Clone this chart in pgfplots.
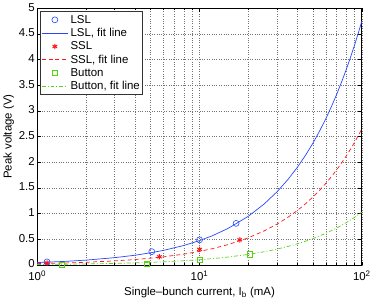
\documentclass[border=0pt]{standalone}
\usepackage{fontspec}
\setmainfont{Liberation Sans}
\usepackage{pgfplots}
\pgfplotsset{compat=1.18}
\definecolor{mblue}{RGB}{40,70,255}
\definecolor{mred}{RGB}{255,20,20}
\definecolor{mgreen}{RGB}{90,210,20}
\begin{document}
\begin{tikzpicture}
\begin{axis}[
  xmode=log,
  scale only axis,
  width=325bp, height=257bp,
  xmin=1, xmax=100, ymin=0, ymax=5,
  xtick={1,10,100},
  xticklabels={10\textsuperscript{0},10\textsuperscript{1},10\textsuperscript{2}},
  minor xtick={2,3,4,5,6,7,8,9,20,30,40,50,60,70,80,90},
  ytick={0,0.5,1,1.5,2,2.5,3,3.5,4,4.5,5},
  yticklabels={0,0.5,1,1.5,2,2.5,3,3.5,4,4.5,5},
  tick align=inside,
  tick pos=both,
  major tick length=3.5pt, minor tick length=2pt,
  grid=both,
  major grid style={black!55, dotted, line width=0.5pt},
  minor grid style={black!55, dotted, line width=0.5pt},
  axis line style={black, line width=1pt},
  tick style={black, line width=0.6pt},
  tick label style={font=\fontsize{11.5}{13}\selectfont},
  yticklabel style={xshift=1pt, yshift=1pt},
  xticklabel style={yshift=-2pt},
  label style={font=\fontsize{11.5}{13}\selectfont},
  xlabel={Single\textendash bunch current, I\textsubscript{b} (mA)},
  ylabel={Peak voltage (V)},
  xlabel style={at={(axis description cs:0.5,-0.108)}, anchor=center},
  ylabel style={at={(axis description cs:-0.088,0.5)}, anchor=center},
  legend image code/.code={\draw[mark repeat=2,mark phase=2,#1] plot coordinates {(0cm,0cm) (0.47cm,0cm) (0.94cm,0cm)};},
  legend style={at={(0.01,0.988)}, anchor=north west, font=\fontsize{11.5}{13}\selectfont, draw=black!80, line width=0.5pt, inner xsep=0.5pt, inner ysep=1.5pt, row sep=-0.3pt, cells={anchor=west}},
  legend cell align=left,
]
\addplot[only marks, mblue, mark=o, mark size=3pt, line width=0.6pt] coordinates {(1.15,0.06) (5.08,0.26) (10,0.49) (16.8,0.81)};
\addlegendentry{LSL}
\addplot[mblue, solid, line width=0.7pt] coordinates {
(1,0.0475) (1.5,0.071) (2,0.095) (3,0.143) (4,0.19) (5,0.238) (6,0.285) (8,0.38) (10,0.475) (12,0.57) (15,0.713) (20,0.95) (25,1.188) (30,1.425) (35,1.663) (40,1.9) (45,2.138) (50,2.375) (55,2.613) (60,2.85) (65,3.088) (70,3.325) (75,3.563) (80,3.8) (85,4.038) (90,4.275) (95,4.513) (100,4.75)};
\addlegendentry{LSL, fit line}
\addplot[only marks, mred, mark=asterisk, mark size=2.7pt, line width=1pt] coordinates {(1.15,0.04) (5.66,0.16) (10,0.305) (17.7,0.49)};
\addlegendentry{SSL}
\addplot[mred, dash pattern=on 4pt off 3pt, line width=0.7pt] coordinates {
(1,0.0265) (1.5,0.040) (2,0.053) (3,0.080) (4,0.106) (5,0.133) (6,0.159) (8,0.212) (10,0.265) (12,0.318) (15,0.398) (20,0.53) (25,0.663) (30,0.795) (35,0.928) (40,1.06) (45,1.193) (50,1.325) (55,1.458) (60,1.59) (65,1.723) (70,1.855) (75,1.988) (80,2.12) (85,2.253) (90,2.385) (95,2.518) (100,2.65)};
\addlegendentry{SSL, fit line}
\addplot[only marks, mgreen, mark=square, mark size=2.6pt, line width=0.6pt] coordinates {(1.42,0.01) (4.73,0.02) (10,0.10) (20.5,0.21)};
\addlegendentry{Button}
\addplot[mgreen, dash pattern=on 4pt off 2pt on 1pt off 2pt, line width=0.7pt] coordinates {
(1,0.0103) (1.5,0.015) (2,0.021) (3,0.031) (4,0.041) (5,0.052) (6,0.062) (8,0.082) (10,0.103) (12,0.124) (15,0.155) (20,0.206) (25,0.258) (30,0.309) (35,0.361) (40,0.412) (45,0.464) (50,0.515) (55,0.567) (60,0.618) (65,0.670) (70,0.721) (75,0.773) (80,0.824) (85,0.876) (90,0.927) (95,0.979) (100,1.03)};
\addlegendentry{Button, fit line}
\end{axis}
\end{tikzpicture}
\end{document}
